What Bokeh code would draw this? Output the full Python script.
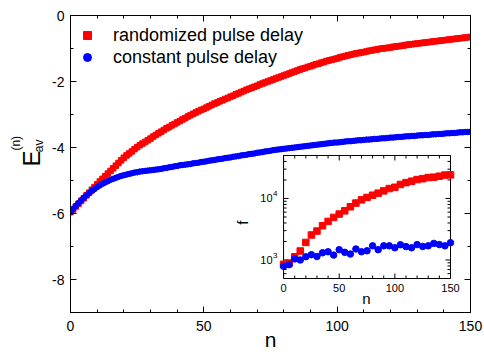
import math
from bokeh.plotting import figure
from bokeh.layouts import row
from bokeh.models import (Range1d, LinearAxis, FixedTicker, LinearScale)
from bokeh.core.properties import value
from bokeh.embed import file_html
from bokeh.resources import INLINE

FONT = "Liberation Sans"

# ---------------- data ----------------
n = list(range(0, 151))
red_E = [-5.96, -5.88, -5.79, -5.71, -5.62, -5.54, -5.45, -5.37, -5.28, -5.20,
         -5.11, -5.03, -4.95, -4.87, -4.79, -4.71, -4.63, -4.55, -4.47, -4.39,
         -4.31, -4.24, -4.18, -4.12, -4.05, -3.99, -3.93, -3.88, -3.83, -3.78,
         -3.73, -3.67, -3.62, -3.57, -3.52, -3.47, -3.42, -3.38, -3.33, -3.29,
         -3.24, -3.20, -3.15, -3.11, -3.06, -3.02, -2.98, -2.94, -2.90, -2.86,
         -2.83, -2.79, -2.75, -2.71, -2.67, -2.64, -2.60, -2.57, -2.53, -2.50,
         -2.46, -2.43, -2.39, -2.36, -2.32, -2.29, -2.25, -2.22, -2.19, -2.16,
         -2.13, -2.09, -2.06, -2.03, -2.00, -1.97, -1.94, -1.91, -1.88, -1.85,
         -1.82, -1.79, -1.76, -1.73, -1.70, -1.67, -1.64, -1.61, -1.59, -1.56,
         -1.54, -1.51, -1.48, -1.46, -1.43, -1.41, -1.38, -1.36, -1.34, -1.32,
         -1.30, -1.27, -1.25, -1.23, -1.21, -1.19, -1.17, -1.15, -1.14, -1.12,
         -1.11, -1.09, -1.07, -1.06, -1.04, -1.03, -1.01, -1.00, -0.99, -0.98,
         -0.97, -0.95, -0.94, -0.93, -0.92, -0.91, -0.89, -0.88, -0.87, -0.86,
         -0.85, -0.84, -0.83, -0.82, -0.81, -0.80, -0.79, -0.78, -0.77, -0.76,
         -0.75, -0.74, -0.73, -0.72, -0.71, -0.70, -0.69, -0.68, -0.67, -0.66,
         -0.65]
blue_E = [-5.96, -5.86, -5.77, -5.68, -5.60, -5.52, -5.45, -5.38, -5.32, -5.26,
          -5.20, -5.15, -5.10, -5.06, -5.02, -4.98, -4.95, -4.92, -4.89, -4.86,
          -4.84, -4.82, -4.80, -4.78, -4.76, -4.75, -4.73, -4.72, -4.71, -4.70,
          -4.69, -4.68, -4.67, -4.66, -4.65, -4.63, -4.62, -4.60, -4.59, -4.57,
          -4.56, -4.54, -4.53, -4.52, -4.51, -4.50, -4.48, -4.47, -4.46, -4.44,
          -4.43, -4.42, -4.40, -4.39, -4.38, -4.36, -4.35, -4.34, -4.32, -4.31,
          -4.30, -4.28, -4.27, -4.26, -4.24, -4.23, -4.22, -4.20, -4.19, -4.18,
          -4.16, -4.15, -4.14, -4.12, -4.11, -4.10, -4.08, -4.07, -4.06, -4.05,
          -4.04, -4.03, -4.02, -4.01, -4.00, -3.99, -3.98, -3.97, -3.96, -3.95,
          -3.94, -3.93, -3.92, -3.91, -3.90, -3.89, -3.88, -3.87, -3.86, -3.85,
          -3.85, -3.84, -3.83, -3.82, -3.81, -3.81, -3.80, -3.79, -3.78, -3.78,
          -3.77, -3.76, -3.76, -3.75, -3.74, -3.74, -3.73, -3.72, -3.72, -3.71,
          -3.70, -3.70, -3.69, -3.68, -3.68, -3.67, -3.66, -3.66, -3.65, -3.65,
          -3.64, -3.63, -3.63, -3.62, -3.62, -3.61, -3.60, -3.60, -3.59, -3.59,
          -3.58, -3.57, -3.57, -3.56, -3.56, -3.55, -3.54, -3.54, -3.53, -3.53,
          -3.52]

n_inset = [0, 5, 10, 15, 20, 25, 30, 35, 40, 45, 50, 55, 60, 65, 70, 75,
           80, 85, 90, 95, 100, 105, 110, 115, 120, 125, 130, 135, 140, 145, 150]
red_f = [850, 890, 1130, 1400, 1930, 2550, 2950, 3600, 4240, 4920, 5580,
         6300, 7340, 8420, 9500, 10400, 11300, 12200, 13300, 14500, 15200,
         16900, 18100, 19100, 20300, 21000, 21900, 22200, 23000, 24000, 24200]
blue_f = [790, 840, 1040, 1000, 1130, 1220, 1140, 1310, 1360, 1200, 1470,
          1330, 1250, 1510, 1360, 1410, 1700, 1470, 1700, 1700, 1580, 1770,
          1650, 1580, 1780, 1660, 1700, 1860, 1780, 1700, 1910]

labels = ["randomized pulse delay", "constant pulse delay"]
x_title = "n"
y_title_parts = ["E", "av", "(n)"]

x_major = [0, 50, 100, 150]
x_minor = [10, 20, 30, 40, 60, 70, 80, 90, 110, 120, 130, 140]
y_major = [0, -2, -4, -6, -8]
y_major_labels = ["0", "-2", "-4", "-6", "-8"]
y_minor = [-1, -3, -5, -7, -9]

inset_x_major = [0, 50, 100, 150]
inset_x_labels = ["0", "50", "100", "150"]
inset_x_minor = [10, 20, 30, 40, 60, 70, 80, 90, 110, 120, 130, 140]
inset_y_major = [1000, 10000]
inset_y_exp = ["3", "4"]
inset_y_minor = [600, 700, 800, 900, 2000, 3000, 4000, 5000, 6000, 7000,
                 8000, 9000, 20000, 30000, 40000]
inset_x_range = (0, 150)
inset_y_range = (500, 50000)

lg10 = math.log10

LAB_W = 48

# ---------------- y-title strip (left) ----------------
lab = figure(width=LAB_W, height=354, x_range=Range1d(0, LAB_W), y_range=Range1d(354, 0),
             output_backend="svg", toolbar_location=None,
             x_axis_type=None, y_axis_type=None,
             min_border_left=0, min_border_right=0, min_border_top=0, min_border_bottom=0)
lab.outline_line_color = None
lab.background_fill_color = "white"
lab.border_fill_color = "white"
lab.xgrid.visible = False
lab.ygrid.visible = False
lab.text(x=[31], y=[180], text=[y_title_parts[0]], text_font=value(FONT),
         text_font_size="24px", angle=math.pi / 2, text_align="left",
         text_baseline="alphabetic", text_color="black")
lab.text(x=[38.5, 15], y=[163, 161], text=y_title_parts[1:], text_font=value(FONT),
         text_font_size="12px", angle=math.pi / 2, text_align="left",
         text_baseline="alphabetic", text_color="black")

# ---------------- main figure ----------------
p = figure(width=484 - LAB_W, height=354, x_range=Range1d(0, 150), y_range=Range1d(-9, 0),
           output_backend="svg", toolbar_location=None,
           min_border_left=70 - LAB_W, min_border_right=14, min_border_top=15,
           min_border_bottom=42)
p.background_fill_color = "white"
p.border_fill_color = "white"
p.outline_line_color = "black"
p.xgrid.visible = False
p.ygrid.visible = False


def style_axis(ax, ticks, minor, show_labels=True):
    ax.ticker = FixedTicker(ticks=ticks, minor_ticks=minor)
    ax.major_tick_in = 6
    ax.major_tick_out = 0
    ax.minor_tick_in = 3
    ax.minor_tick_out = 0
    ax.axis_line_color = "black"
    ax.major_tick_line_color = "black"
    ax.minor_tick_line_color = "black"
    if show_labels:
        ax.major_label_text_font = FONT
        ax.major_label_text_font_size = "14px"
        ax.major_label_text_color = "black"
    else:
        ax.major_label_overrides = {t: "" for t in ticks}
        ax.major_label_text_font_size = "1px"
        ax.major_label_standoff = 0


style_axis(p.xaxis[0], x_major, x_minor)
p.xaxis[0].major_label_standoff = 8
p.xaxis[0].axis_label = x_title
p.xaxis[0].axis_label_text_font = FONT
p.xaxis[0].axis_label_text_font_size = "21px"
p.xaxis[0].axis_label_text_font_style = "normal"
p.xaxis[0].axis_label_text_color = "black"
p.xaxis[0].axis_label_standoff = -6

style_axis(p.yaxis[0], y_major, y_minor)
p.yaxis[0].major_label_standoff = 6
p.yaxis[0].major_label_overrides = dict(zip(y_major, y_major_labels))

top_ax = LinearAxis()
style_axis(top_ax, x_major, x_minor, show_labels=False)
p.add_layout(top_ax, "above")
right_ax = LinearAxis()
style_axis(right_ax, y_major, y_minor, show_labels=False)
p.add_layout(right_ax, "right")

# main data
p.scatter(n, red_E, marker="square", size=5.5, color="#ff0000",
          legend_label=labels[0])
p.scatter(n, blue_E, marker="circle", size=5.5, color="#0000ff",
          legend_label=labels[1])

lg = p.legend[0]
lg.location = (7, 244)
lg.border_line_color = None
lg.background_fill_alpha = 0
lg.margin = 0
lg.padding = 0
lg.spacing = 0
lg.glyph_width = 20
lg.glyph_height = 22
lg.label_height = 22
lg.label_standoff = 16
lg.label_text_font = FONT
lg.label_text_font_size = "18px"
lg.label_text_color = "black"

# ---------------- inset (sub-coordinates, log10 of f on a linear scale) ----------------
y_lo = lg10(inset_y_range[0])
y_hi = lg10(inset_y_range[1])
ins = p.subplot(x_source=Range1d(*inset_x_range), y_source=Range1d(y_lo, y_hi),
                x_scale=LinearScale(), y_scale=LinearScale(),
                x_target=Range1d(79.9, 142.5), y_target=Range1d(-7.97, -4.242))

ins.quad(left=[inset_x_range[0]], right=[inset_x_range[1]],
         bottom=[y_lo], top=[y_hi],
         fill_color="white", line_color="black", line_width=1)

ly_major = [lg10(v) for v in inset_y_major]
ly_minor = [lg10(v) for v in inset_y_minor]

nx = len(inset_x_major)
nxm = len(inset_x_minor)
ny = len(ly_major)
nym = len(ly_minor)
ins.ray(x=inset_x_major, y=[y_lo] * nx, length=5, length_units="screen",
        angle=math.pi / 2, line_color="black")
ins.ray(x=inset_x_major, y=[y_hi] * nx, length=5, length_units="screen",
        angle=-math.pi / 2, line_color="black")
ins.ray(x=inset_x_minor, y=[y_lo] * nxm, length=3, length_units="screen",
        angle=math.pi / 2, line_color="black")
ins.ray(x=inset_x_minor, y=[y_hi] * nxm, length=3, length_units="screen",
        angle=-math.pi / 2, line_color="black")
ins.ray(x=[inset_x_range[0]] * ny, y=ly_major, length=5, length_units="screen",
        angle=0, line_color="black")
ins.ray(x=[inset_x_range[1]] * ny, y=ly_major, length=5, length_units="screen",
        angle=math.pi, line_color="black")
ins.ray(x=[inset_x_range[0]] * nym, y=ly_minor, length=3, length_units="screen",
        angle=0, line_color="black")
ins.ray(x=[inset_x_range[1]] * nym, y=ly_minor, length=3, length_units="screen",
        angle=math.pi, line_color="black")

# inset tick labels and titles
ins.text(x=inset_x_major, y=[2.615] * nx, text=inset_x_labels, text_font=value(FONT),
         text_font_size="11px", text_align="center", text_baseline="top",
         text_color="black")
ins.text(x=[-9.9] * ny, y=ly_major, text=["10"] * ny, text_font=value(FONT),
         text_font_size="11px", text_align="right", text_baseline="middle",
         text_color="black")
ins.text(x=[-9.5] * ny, y=[v + 0.073 for v in ly_major], text=inset_y_exp,
         text_font=value(FONT), text_font_size="8px", text_align="left",
         text_baseline="middle", text_color="black")
ins.text(x=[74.5], y=[2.371], text=["n"], text_font=value(FONT), text_font_size="15px",
         text_align="center", text_baseline="middle", text_color="black")
ins.text(x=[-36.8], y=[3.6065], text=["f"], text_font=value(FONT), text_font_size="15px",
         text_align="center", text_baseline="middle", angle=math.pi / 2,
         text_color="black")

# inset data
ins.scatter(n_inset, [lg10(v) for v in red_f], marker="square", size=6.5, color="#ff0000")
ins.scatter(n_inset, [lg10(v) for v in blue_f], marker="circle", size=6.5, color="#0000ff")

layout = row(lab, p, spacing=0)
open("out.html", "w").write(file_html(layout, INLINE))
